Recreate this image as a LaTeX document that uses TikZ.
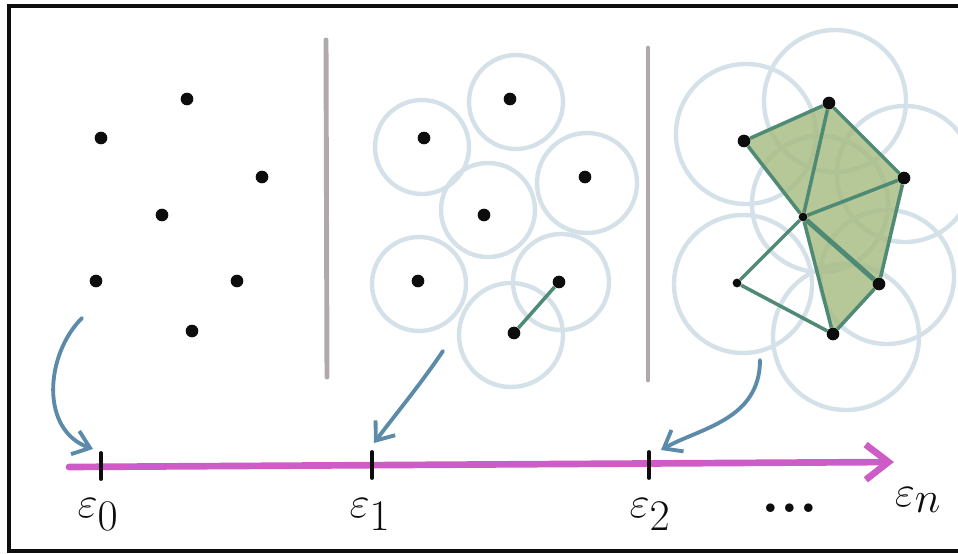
\documentclass[tikz,border=0pt]{standalone}
\usepackage{xcolor}
\usepackage{tikz}
\usetikzlibrary{arrows.meta,positioning,calc,backgrounds}
\definecolor{ink}{HTML}{0D0D0D}
\definecolor{haze}{HTML}{D5E1E8}
\definecolor{moss}{HTML}{A9BD86}
\definecolor{pine}{HTML}{4E8A74}
\definecolor{steel}{HTML}{5B8BA9}
\definecolor{orchid}{HTML}{CD5CC6}
\definecolor{stone}{HTML}{AFA9A9}
\tikzset{
  sample/.style={circle,fill=ink,inner sep=0pt,minimum size=7.2pt},
  hub/.style={sample,minimum size=5pt},
  ball/.style={draw=haze,line width=2.5pt},
  cell/.style={fill=moss,fill opacity=0.85},
  link/.style={draw=pine,line width=2pt},
  flow/.style={-{Straight Barb[length=9pt,width=14pt]},draw=steel,line width=2.2pt,line cap=round},
  axis/.style={-{Straight Barb[length=13pt,width=20pt]},draw=orchid,line width=3.8pt,line cap=round},
  notch/.style={draw=ink,line width=2.2pt,line cap=round},
  divider/.style={draw=stone,line width=2.8pt,line cap=round},
  frame/.style={draw=ink,line width=2.6pt},
  eps/.style={font=\fontsize{34}{40}\selectfont,inner sep=0pt,text=ink},
}

\begin{document}
\begin{tikzpicture}[x=0.02cm,y=-0.02cm]
    \useasboundingbox (0,0) rectangle (958,554);
    \draw[frame] (964,6) -- (9,6) -- (9,551) -- (964,551);
    \draw[divider] (326,40) -- (327,377);
    \draw[divider] (648,48) -- (648,380);
    % bare points
    \node[sample] (p1) at (187,99) {};
    \node[sample] (p2) at (101,138) {};
    \node[sample] (p3) at (262,177) {};
    \node[sample] (p4) at (162,215) {};
    \node[sample] (p5) at (96,281) {};
    \node[sample] (p6) at (237,281) {};
    \node[sample] (p7) at (192,331) {};
    % points with balls
    \node[sample] (q1) at (510,99) {};
    \node[sample] (q2) at (424,138) {};
    \node[sample] (q3) at (585,177) {};
    \node[sample] (q4) at (484,215) {};
    \node[sample] (q5) at (418,281) {};
    \node[sample] (q6) at (559,282) {};
    \node[sample] (q7) at (514,333) {};
    % complex
    \node[sample] (r1) at (744,141) {};
    \node[sample] (r2) at (829,103) {};
    \node[sample] (r3) at (904,178) {};
    \node[hub] (r4) at (803,217) {};
    \node[hub] (r5) at (737,283) {};
    \node[sample] (r6) at (879,284) {};
    \node[sample] (r7) at (833,334) {};
    \begin{scope}[on background layer]
      \draw[ball] (516,102) circle[radius=47];
      \draw[ball] (422,147) circle[radius=47];
      \draw[ball] (587,183) circle[radius=50];
      \draw[ball] (488,210) circle[radius=47];
      \draw[ball] (419,284) circle[radius=47];
      \draw[ball] (561,282) circle[radius=48];
      \draw[ball] (511,335) circle[radius=52];
      \draw[ball] (746,134) circle[radius=70];
      \draw[ball] (835,101) circle[radius=71];
      \draw[ball] (905,174) circle[radius=68];
      \draw[ball] (820,204) circle[radius=68];
      \draw[ball] (743,284) circle[radius=69];
      \draw[ball] (887,277) circle[radius=67];
      \draw[ball] (846,337) circle[radius=73];
      \fill[cell] (r1.center) -- (r2.center) -- (r3.center) -- (r6.center) -- (r7.center) -- (r4.center) -- cycle;
    \end{scope}
    \draw[link] (q7) -- (q6);
    \draw[link] (r1) -- (r2) -- (r3) -- (r6) -- (r7);
    \draw[link] (r4) -- (r1);
    \draw[link] (r4) -- (r2);
    \draw[link] (r4) -- (r3);
    \draw[link,line width=2.8pt] (r4) -- (r6);
    \draw[link] (r4) -- (r7);
    \draw[link] (r4) -- (r5) -- (r7);
    % filtration axis
    \coordinate (ax-a) at (69,467);
    \coordinate (ax-b) at (894,462);
    \draw[axis] (ax-a) -- (ax-b);
    \coordinate (t0) at (101,466);
    \coordinate (t1) at (372,465);
    \coordinate (t2) at (649,465);
    \foreach \t in {t0,t1,t2}
      \draw[notch] ($(\t)+(0,-13)$) -- ($(\t)+(0,13)$);
    \node[eps] (e0) at (98,515) {$\varepsilon_0$};
    \node[eps] (e1) at (370,515) {$\varepsilon_1$};
    \node[eps] (e2) at (650,515) {$\varepsilon_2$};
    \node[eps] (dots) at (790,508) {\bfseries...};
    \node[eps] (en) at (918,500) {$\varepsilon_n$};
    % arrows down to the axis
    \coordinate (s0) at (82,318);
    \coordinate (s1) at (443,351);
    \coordinate (s2) at (760,360);
    \coordinate (h0) at (93,449);
    \coordinate (h1) at (374,443);
    \coordinate (h2) at (661,450);
    \draw[flow] (s0) .. controls (45,355) and (40,430) .. (h0);
    \draw[flow] (s1) .. controls (420,385) and (395,415) .. (h1);
    \draw[flow] (s2) .. controls (760,420) and (700,428) .. (h2);
  \end{tikzpicture}
\end{document}
